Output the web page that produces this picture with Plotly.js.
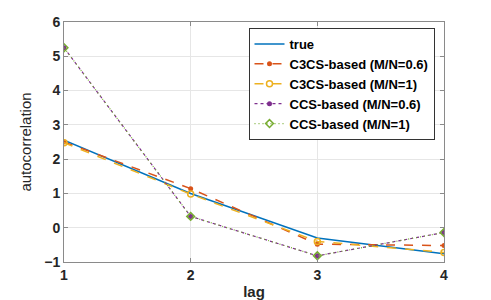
<!DOCTYPE html>
<html><head><meta charset="utf-8">
<script src="https://cdn.plot.ly/plotly-3.0.1.min.js"></script>
<style>html,body{margin:0;padding:0;background:#fff}#chart{width:491px;height:300px}</style>
</head><body><div id="chart"></div>
<script>
const lags = [1, 2, 3, 4];
const trueVals = [2.55, 1.0, -0.30, -0.76];
const c3csM06 = [2.50, 1.14, -0.48, -0.52];
const c3csM1 = [2.48, 0.98, -0.40, -0.72];
const ccsM06 = [5.25, 0.33, -0.82, -0.14];
const ccsM1 = [5.25, 0.33, -0.82, -0.14];
const names = ['true', 'C3CS-based (M/N=0.6)', 'C3CS-based (M/N=1)', 'CCS-based (M/N=0.6)', 'CCS-based (M/N=1)'];
const xTicks = [1, 2, 3, 4];
const yTicks = [-1, 0, 1, 2, 3, 4, 5, 6];

const traces = [
  {x: lags, y: trueVals, name: names[0], mode: 'lines', line: {color: '#0072BD', width: 1.5}},
  {x: lags, y: c3csM06, name: names[1], mode: 'lines+markers', line: {color: '#D95319', width: 1.5, dash: 'dash'}, marker: {symbol: 'circle', size: 5, color: '#D95319'}},
  {x: lags, y: c3csM1, name: names[2], mode: 'lines+markers', line: {color: '#EDB120', width: 1.5, dash: 'dash'}, marker: {symbol: 'circle-open', size: 6, color: '#EDB120', line: {width: 1.5}}},
  {x: lags, y: ccsM06, name: names[3], mode: 'lines+markers', line: {color: '#7E2F8E', width: 1.2, dash: 'dot'}, marker: {symbol: 'circle', size: 5, color: '#7E2F8E'}},
  {x: lags, y: ccsM1, name: names[4], mode: 'lines+markers', line: {color: '#77AC30', width: 1.2, dash: '1px,3px'}, marker: {symbol: 'diamond-open', size: 6, color: '#77AC30', line: {width: 1.5}}}
];

const axCommon = {
  showline: true, linecolor: '#8a8a8a', linewidth: 1, mirror: 'ticks',
  ticks: 'inside', ticklen: 4, tickcolor: '#8a8a8a',
  showgrid: true, gridcolor: '#e6e6e6', gridwidth: 1, zeroline: false,
  tickfont: {family: 'Liberation Sans, Arial, sans-serif', size: 14, color: '#262626', weight: 'bold'}
};

const layout = {
  width: 491, height: 300,
  margin: {l: 64, r: 47, t: 22, b: 38},
  paper_bgcolor: '#fff', plot_bgcolor: '#fff',
  showlegend: true,
  xaxis: Object.assign({}, axCommon, {range: [1, 4], tickvals: xTicks,
    title: {text: '<b>lag</b>', font: {family: 'Liberation Sans, Arial, sans-serif', size: 15, color: '#262626'}, standoff: 4}}),
  yaxis: Object.assign({}, axCommon, {range: [-1, 6], tickvals: yTicks,
    title: {text: 'autocorrelation', font: {family: 'Liberation Sans, Arial, sans-serif', size: 15, color: '#262626'}, standoff: 8}}),
  legend: {x: 0.975, y: 0.975, xanchor: 'right', yanchor: 'top',
    bgcolor: '#fff', bordercolor: '#333', borderwidth: 1,
    font: {family: 'Liberation Sans, Arial, sans-serif', size: 13, color: '#000', weight: 'bold'},
    tracegroupgap: 0, itemwidth: 30}
};

Plotly.newPlot('chart', traces, layout, {displayModeBar: false, staticPlot: true});
</script></body></html>
